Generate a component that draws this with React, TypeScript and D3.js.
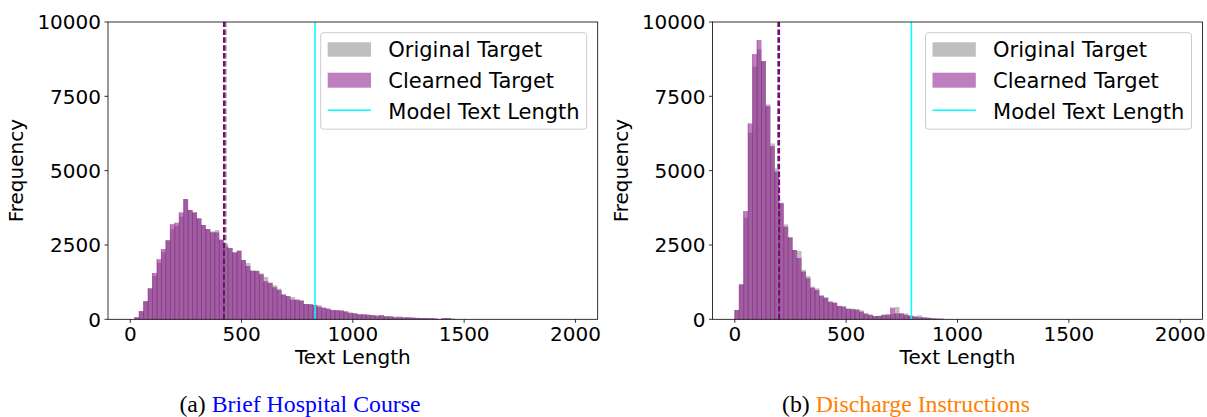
import React from "react";
import * as d3 from "d3";

// ---------- data ----------
const BIN_WIDTH = 20;
const xTicks = [0, 500, 1000, 1500, 2000];
const yTicks = [0, 2500, 5000, 7500, 10000];
const legendLabels = ["Original Target", "Clearned Target", "Model Text Length"];

// Brief Hospital Course (bins of 20 starting at 0)
const bhcOriginal = [
  0, 70, 275, 610, 1042, 1456, 1894, 2252, 2660, 3026,
  3138, 3452, 4045, 3676, 3597, 3396, 3172, 3037, 2960, 3003,
  2680, 2545, 2400, 2252, 2308, 1993, 1893, 1636, 1630, 1546,
  1423, 1243, 1143, 1030, 835, 780, 750, 678, 632, 515,
  508, 485, 470, 391, 358, 313, 313, 300, 268, 237,
  202, 178, 168, 155, 142, 124, 125, 110, 100, 89,
  100, 66, 66, 60, 55, 44, 44, 40, 33, 10,
  30, 40, 33, 0,
];
const bhcCleaned = [
  0, 70, 275, 610, 1042, 1557, 2022, 2364, 2660, 3200,
  3250, 3597, 4045, 3676, 3597, 3396, 3172, 3037, 2925, 2925,
  2680, 2455, 2400, 2252, 2308, 1993, 1793, 1636, 1630, 1512,
  1283, 1220, 1080, 985, 835, 780, 665, 650, 632, 515,
  508, 485, 425, 391, 358, 313, 305, 295, 262, 208,
  202, 167, 168, 155, 142, 124, 145, 100, 100, 67,
  66, 66, 66, 60, 44, 44, 44, 40, 33, 10,
  44, 44, 10, 0,
];
const bhcMeanOriginal = 428;
const bhcMeanCleaned = 421;
const bhcModelLength = 830;

// Discharge Instructions
const diOriginal = [
  313, 1176, 3418, 6277, 8497, 9078, 8686, 7229, 5917, 5077,
  3922, 3193, 2757, 2331, 2297, 1659, 1457, 1100, 1041, 818,
  750, 616, 560, 455, 440, 370, 358, 346, 300, 215,
  167, 111, 115, 150, 160, 180, 413, 200, 200, 123,
  111, 134, 66, 55, 44, 33, 33, 0,
];
const diCleaned = [
  313, 1176, 3642, 6590, 8921, 9392, 8686, 7173, 5828, 4965,
  3900, 3115, 2757, 2331, 2062, 1603, 1380, 1060, 985, 784,
  715, 580, 560, 448, 425, 347, 340, 320, 257, 180,
  145, 111, 115, 150, 160, 391, 200, 200, 145, 123,
  90, 66, 66, 50, 30, 20, 10, 0,
];
const diMeanOriginal = 194;
const diMeanCleaned = 199;
const diModelLength = 793;

// ---------- styles ----------
const FONT = "DejaVu Sans, sans-serif";
const GRAY = "rgb(128,128,128)";
const PURPLE = "rgb(128,0,128)";
const CYAN = "#00ffff";

type PanelProps = {
  x0: number;
  x1: number;
  original: number[];
  cleaned: number[];
  meanOriginal: number;
  meanCleaned: number;
  modelLength: number;
};

const Y_TOP = 22;
const Y_BOTTOM = 319.3;

function Panel({ x0, x1, original, cleaned, meanOriginal, meanCleaned, modelLength }: PanelProps) {
  const x = d3.scaleLinear().domain([-100, 2100]).range([x0, x1]);
  const y = d3.scaleLinear().domain([0, 10000]).range([Y_BOTTOM, Y_TOP]);
  const fs = 20;
  const bars = (vals: number[], fill: string) =>
    vals.map((v, i) =>
      v > 0 ? (
        <rect
          key={i}
          x={x(i * BIN_WIDTH)}
          y={y(v)}
          width={x((i + 1) * BIN_WIDTH) - x(i * BIN_WIDTH)}
          height={y(0) - y(v)}
          fill={fill}
          fillOpacity={0.5}
        />
      ) : null
    );
  const edges = cleaned.map((v, i) =>
    v > 0 ? (
      <line
        key={i}
        x1={x(i * BIN_WIDTH)}
        x2={x(i * BIN_WIDTH)}
        y1={y(0)}
        y2={y(v)}
        stroke={PURPLE}
        strokeOpacity={0.7}
        strokeWidth={0.7}
      />
    ) : null
  );
  const lx = x1 - 277; // legend left
  const ly = 32.7;
  const lfs = 21;
  return (
    <g>
      <g>{bars(original, GRAY)}</g>
      <g>{bars(cleaned, PURPLE)}</g>
      <g>{edges}</g>
      <line x1={x(meanOriginal)} x2={x(meanOriginal)} y1={Y_BOTTOM} y2={Y_TOP} stroke={GRAY} strokeWidth={2} strokeDasharray="5.5,2.4" />
      <line x1={x(meanCleaned)} x2={x(meanCleaned)} y1={Y_BOTTOM} y2={Y_TOP} stroke={PURPLE} strokeWidth={2} strokeDasharray="5.5,2.4" />
      <line x1={x(modelLength)} x2={x(modelLength)} y1={Y_BOTTOM} y2={Y_TOP} stroke={CYAN} strokeWidth={1.5} />
      {/* frame */}
      <rect x={x0} y={Y_TOP} width={x1 - x0} height={Y_BOTTOM - Y_TOP} fill="none" stroke="#000" strokeWidth={0.8} />
      {/* x ticks */}
      {xTicks.map((t) => (
        <g key={t}>
          <line x1={x(t)} x2={x(t)} y1={Y_BOTTOM} y2={Y_BOTTOM + 3.5} stroke="#000" strokeWidth={0.8} />
          <text x={x(t)} y={Y_BOTTOM + 22} textAnchor="middle" fontFamily={FONT} fontSize={fs} fill="#000">
            {t}
          </text>
        </g>
      ))}
      {yTicks.map((t) => (
        <g key={t}>
          <line x1={x0 - 3.5} x2={x0} y1={y(t)} y2={y(t)} stroke="#000" strokeWidth={0.8} />
          <text x={x0 - 7} y={y(t)} dy="0.36em" textAnchor="end" fontFamily={FONT} fontSize={fs} fill="#000">
            {t}
          </text>
        </g>
      ))}
      <text x={(x0 + x1) / 2} y={364} textAnchor="middle" fontFamily={FONT} fontSize={fs} fill="#000">
        Text Length
      </text>
      <text
        transform={`translate(${x0 - 85},${(Y_TOP + Y_BOTTOM) / 2}) rotate(-90)`}
        textAnchor="middle"
        fontFamily={FONT}
        fontSize={fs}
        fill="#000"
      >
        Frequency
      </text>
      {/* legend */}
      <rect x={lx} y={ly} width={266} height={96.5} rx={3} fill="#fff" fillOpacity={0.8} stroke="#cccccc" strokeWidth={1} />
      <rect x={lx + 7} y={ly + 9.6} width={43.3} height={14.4} fill={GRAY} fillOpacity={0.5} />
      <rect x={lx + 7} y={ly + 40} width={43.3} height={15} fill={PURPLE} fillOpacity={0.5} />
      <line x1={lx + 7} x2={lx + 50.3} y1={ly + 77.6} y2={ly + 77.6} stroke={CYAN} strokeWidth={1.5} />
      {legendLabels.map((l, i) => (
        <text key={l} x={lx + 67.6} y={ly + 23.8 + i * 31} fontFamily={FONT} fontSize={lfs} fill="#000">
          {l}
        </text>
      ))}
    </g>
  );
}

export default function App() {
  const capFont = "Liberation Serif, Times New Roman, serif";
  return (
    <svg width={1207} height={417} style={{ position: "absolute", left: 0, top: 0, background: "#fff" }}>
      <rect width={1207} height={417} fill="#fff" />
      <Panel
        x0={108}
        x1={597.7}
        original={bhcOriginal}
        cleaned={bhcCleaned}
        meanOriginal={bhcMeanOriginal}
        meanCleaned={bhcMeanCleaned}
        modelLength={bhcModelLength}
      />
      <Panel
        x0={712.5}
        x1={1202.5}
        original={diOriginal}
        cleaned={diCleaned}
        meanOriginal={diMeanOriginal}
        meanCleaned={diMeanCleaned}
        modelLength={diModelLength}
      />
      <text x={300} y={412} textAnchor="middle" fontFamily={capFont} fontSize={23.8} fill="#000">
        (a) <tspan fill="#0000ff">Brief Hospital Course</tspan>
      </text>
      <text x={906} y={412} textAnchor="middle" fontFamily={capFont} fontSize={23.8} fill="#000">
        (b) <tspan fill="#ff8000">Discharge Instructions</tspan>
      </text>
    </svg>
  );
}
